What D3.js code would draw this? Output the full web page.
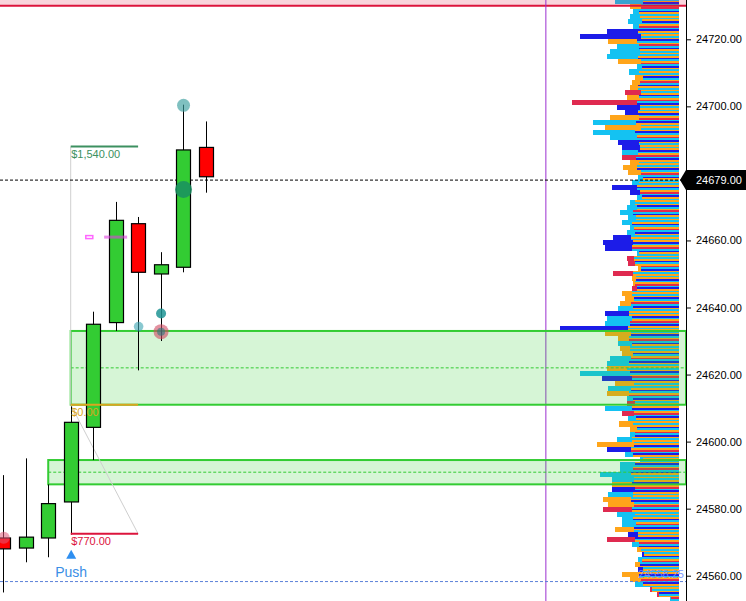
<!DOCTYPE html>
<html>
<head>
<meta charset="utf-8">
<script src="https://cdn.jsdelivr.net/npm/d3@7"></script>
<style>
  body { margin: 0; background: #fff; }
  svg { display: block; font-family: "Liberation Sans", Arial, sans-serif; }
</style>
</head>
<body>
<div id="chart"></div>
<script>
// candles (index 0 is the partly hidden one at the left edge)
const opens  = [24571.25, 24568.25, 24571.25, 24582, 24604.25, 24635.5, 24665, 24650, 24652, 24687.75];
const highs  = [24590, 24595, 24587.25, 24610.5, 24638.75, 24671.5, 24667, 24656.5, 24700.5, 24695.5];
const lows   = [24555, 24564, 24565.5, 24572.25, 24594.5, 24633, 24621.25, 24630, 24650.5, 24674.25];
const closes = [24568, 24571.5, 24581.5, 24605.75, 24635, 24666, 24650.5, 24652.75, 24687, 24679];

// 24680 sits under the last price tag
const yTicks = [24560, 24580, 24600, 24620, 24640, 24660, 24700, 24720];

// zones: [start index, top, bottom]
const zones = [[3, 24633, 24611], [2, 24594.5, 24587.25]];

// target levels drawn from candle 3 to candle 6
const targets = [
  { label: "$1,540.00", price: 24688, color: "#3c9060" },
  { label: "$0.00", price: 24611, color: "#daa520" },
  { label: "$770.00", price: 24572.5, color: "#dc143c" }
];

// bubbles: [index, price, radius, colour, opacity]
const bubbles = [
  [0, 24571.3, 6, "#e05a78", 0.55],
  [8, 24700.3, 6.5, "#3a9e9e", 0.65],
  [8, 24675.2, 8.5, "#1a8f62", 0.85],
  [6, 24634.3, 4.8, "#3aa4b0", 0.6],
  [7, 24638.2, 5, "#1f9494", 0.85],
  [7, 24632.8, 7.5, "#d04860", 0.6],
  [7, 24632.8, 4, "#2a7a80", 0.6]
];

const lastPrice = 24678;
const lastLabel = "24679.00";
const pocPrice = 24558.25;
const redBandPrice = 24730;
const sessionIndex = 24.15;
const pushIndex = 3;
const orderPrice = 24661;

// volume profile, one row per 1.5 points from the top of the chart
const proTop = 24732, proStep = 1.5;
const proVol = [
  64, 49, 46, 49, 51, 46, 72, 99, 71, 62,
  69, 72, 61, 42, 50, 44, 47, 49, 54, 52,
  107, 62, 54, 69, 86, 74, 86, 69, 61, 57,
  57, 57, 49, 56, 51, 41, 47, 67, 49, 42,
  49, 52, 59, 51, 57, 49, 52, 66, 76, 74,
  42, 52, 51, 41, 66, 47, 46, 47, 57, 54,
  59, 61, 74, 72, 74, 119, 74, 61, 61, 59,
  57, 69, 72, 72, 99, 77, 64, 71, 72, 52,
  52, 74, 57, 51, 60, 49, 49, 62, 82, 72,
  54, 39, 59, 59, 79, 67, 67, 67, 71, 76,
  71, 76, 62, 57, 57, 64, 51, 72, 47, 42,
  37, 41, 44, 41, 57, 49, 44, 29, 22, 9
];
const proCore = [
  36, 38, 40, 39, 37, 40, 41, 38, 42, 40,
  39, 41, 38, 37, 40, 36, 39, 41, 38, 40,
  42, 39, 41, 40, 43, 38, 44, 42, 40, 39,
  41, 43, 40, 42, 38, 36, 40, 42, 39, 37,
  44, 42, 46, 43, 47, 45, 44, 48, 46, 47,
  40, 45, 44, 38, 46, 43, 44, 42, 47, 45,
  48, 46, 50, 47, 49, 51, 48, 50, 47, 49,
  46, 48, 50, 52, 49, 47, 45, 48, 50, 46,
  44, 47, 45, 43, 46, 42, 44, 47, 45, 48,
  46, 36, 44, 46, 48, 45, 47, 44, 46, 48,
  45, 47, 44, 46, 43, 45, 41, 44, 40, 38,
  35, 37, 39, 36, 40, 38, 36, 27, 20, 8
];
const proColor = ("coccccbboc" + "ccoccoooro" + "rbbococcbb" + "crooocc" + "bbc" +
                  "cccccccbbb" + "crrorooroo" + "ocbccbooco" + "occocbococ" +
                  "rcrcooccob" + "ccccccobco" + "orcccobrco" + "bcoboocrrc").split("");

const pal = { c: "#14c2f2", o: "#ffa51a", b: "#1c1ce8", r: "#df2a50" };
const stripeCycle = ["c", "o", "b", "c", "o", "r", "c", "b", "o", "c", "o"];

const w = 746, h = 601;
const axisX = 686;
const proRight = 679;

const yScale = d3.scaleLinear().domain([24560, 24720]).range([575.7, 39.3]);
const xScale = d3.scaleLinear().domain([0, 9]).range([3.3, 205.5]);
const vScale = d3.scaleLinear().domain([0, 100]).range([proRight, proRight - 100]);
const bodyW = 14;

const svg = d3.select("#chart").append("svg")
  .attr("width", w)
  .attr("height", h);

// profile
const levels = d3.range(proVol.length).map(k => proTop - k * proStep);
const rowH = yScale(proTop - proStep) - yScale(proTop);
const pro = svg.append("g").attr("shape-rendering", "crispEdges");

pro.selectAll("rect.outer")
  .data(levels)
  .enter()
  .append("rect")
  .attr("class", "outer")
  .attr("x", (d, i) => vScale(proVol[i]))
  .attr("y", d => yScale(d))
  .attr("width", (d, i) => proRight - vScale(proVol[i]))
  .attr("height", rowH)
  .attr("fill", (d, i) => pal[proColor[i]] || pal.c);

const stripes = [];
levels.forEach((d, i) => {
  for (let j = 0; j < 3; j++) stripes.push({ i, j, price: d });
});
pro.selectAll("rect.core")
  .data(stripes)
  .enter()
  .append("rect")
  .attr("class", "core")
  .attr("x", s => vScale(Math.min(proCore[s.i], proVol[s.i])))
  .attr("y", s => yScale(s.price) + s.j * rowH / 3)
  .attr("width", s => proRight - vScale(Math.min(proCore[s.i], proVol[s.i])))
  .attr("height", rowH / 3)
  .attr("fill", s => pal[stripeCycle[(s.i * 3 + s.j) % stripeCycle.length]]);

// red band at the top
svg.append("rect")
  .attr("x", 0).attr("y", 0)
  .attr("width", axisX)
  .attr("height", yScale(redBandPrice))
  .attr("fill", "#dc143c")
  .attr("opacity", 0.18);
svg.append("line")
  .attr("x1", 0).attr("x2", axisX)
  .attr("y1", yScale(redBandPrice)).attr("y2", yScale(redBandPrice))
  .attr("stroke", "#dc143c")
  .attr("stroke-width", 2);

// session line
svg.append("line")
  .attr("x1", xScale(sessionIndex)).attr("x2", xScale(sessionIndex))
  .attr("y1", 0).attr("y2", h)
  .attr("stroke", "#9b30d0")
  .attr("stroke-width", 1);

// zones
zones.forEach(z => {
  const x0 = xScale(z[0]);
  svg.append("rect")
    .attr("x", x0)
    .attr("y", yScale(z[1]))
    .attr("width", axisX - x0)
    .attr("height", yScale(z[2]) - yScale(z[1]))
    .attr("fill", "#33cc33")
    .attr("fill-opacity", 0.2)
    .attr("stroke", "#33cc33")
    .attr("stroke-width", 2);
  const mid = (z[1] + z[2]) / 2;
  svg.append("line")
    .attr("x1", x0).attr("x2", axisX)
    .attr("y1", yScale(mid)).attr("y2", yScale(mid))
    .attr("stroke", "#33cc33")
    .attr("stroke-dasharray", "3,2");
});

// grey guide of the targets
const gx0 = xScale(3), gx1 = xScale(6);
svg.append("path")
  .attr("d", `M${gx0},${yScale(targets[0].price)}L${gx0},${yScale(targets[1].price)}L${gx1},${yScale(targets[2].price)}`)
  .attr("fill", "none")
  .attr("stroke", "#cfcfcf")
  .attr("stroke-width", 1);

// dashed price lines
svg.append("line")
  .attr("x1", 0).attr("x2", axisX)
  .attr("y1", yScale(lastPrice)).attr("y2", yScale(lastPrice))
  .attr("stroke", "#000")
  .attr("stroke-dasharray", "3,2");
svg.append("line")
  .attr("x1", 0).attr("x2", axisX)
  .attr("y1", yScale(pocPrice)).attr("y2", yScale(pocPrice))
  .attr("stroke", "#5b80d8")
  .attr("stroke-dasharray", "3,2");
svg.append("text")
  .attr("x", proRight + 5)
  .attr("y", yScale(pocPrice) - 4)
  .attr("text-anchor", "end")
  .attr("font-size", 11)
  .attr("fill", "#6f8fff")
  .attr("opacity", 0.9)
  .text(d3.format(".2f")(pocPrice));

// candles
const cg = svg.append("g");
cg.selectAll("line.wick")
  .data(opens)
  .enter()
  .append("line")
  .attr("class", "wick")
  .attr("x1", (d, i) => Math.round(xScale(i)) + 0.5)
  .attr("x2", (d, i) => Math.round(xScale(i)) + 0.5)
  .attr("y1", (d, i) => yScale(highs[i]))
  .attr("y2", (d, i) => yScale(lows[i]))
  .attr("stroke", "#000");
cg.selectAll("rect.body")
  .data(opens)
  .enter()
  .append("rect")
  .attr("class", "body")
  .attr("x", (d, i) => Math.round(xScale(i)) + 0.5 - bodyW / 2)
  .attr("y", (d, i) => yScale(Math.max(d, closes[i])))
  .attr("width", bodyW)
  .attr("height", (d, i) => Math.abs(yScale(d) - yScale(closes[i])))
  .attr("fill", (d, i) => closes[i] >= d ? "#33cc33" : "#ff0000")
  .attr("stroke", "#000")
  .attr("stroke-width", 1.2);

// order marks
svg.append("rect")
  .attr("x", xScale(3.85) - 4).attr("y", yScale(orderPrice) - 1.5)
  .attr("width", 7).attr("height", 3)
  .attr("fill", "none")
  .attr("stroke", "#ff66ff")
  .attr("stroke-width", 1.5);
svg.append("rect")
  .attr("x", xScale(5) - 11.5).attr("y", yScale(orderPrice) - 1.5)
  .attr("width", 23).attr("height", 3)
  .attr("fill", "#e040e0")
  .attr("opacity", 0.6);

// targets
targets.forEach(t => {
  svg.append("line")
    .attr("x1", gx0).attr("x2", gx1)
    .attr("y1", yScale(t.price)).attr("y2", yScale(t.price))
    .attr("stroke", t.color)
    .attr("stroke-width", 2);
  svg.append("text")
    .attr("x", gx0 + 0.5)
    .attr("y", yScale(t.price) + 11)
    .attr("font-size", 11)
    .attr("fill", t.color)
    .text(t.label);
});

// bubbles
svg.selectAll("circle.bub")
  .data(bubbles)
  .enter()
  .append("circle")
  .attr("class", "bub")
  .attr("cx", d => xScale(d[0]) + 0.5)
  .attr("cy", d => yScale(d[1]))
  .attr("r", d => d[2])
  .attr("fill", d => d[3])
  .attr("opacity", d => d[4]);

// push marker
const px = xScale(pushIndex) + 0.5;
const py = yScale(lows[pushIndex]) + 15;
svg.append("path")
  .attr("d", `M${px - 5},${py + 9}L${px + 5},${py + 9}L${px},${py}Z`)
  .attr("fill", "#2f8ff0");
svg.append("text")
  .attr("x", px)
  .attr("y", py + 27)
  .attr("text-anchor", "middle")
  .attr("font-size", 14)
  .attr("fill", "#3a8ee6")
  .text("Push");

// price axis
const yAxis = d3.axisRight(yScale)
  .tickValues(yTicks)
  .tickFormat(d3.format(".2f"))
  .tickSize(5)
  .tickSizeOuter(0)
  .tickPadding(5);
svg.append("g")
  .attr("transform", `translate(${axisX},0)`)
  .call(yAxis)
  .call(g => g.select(".domain").remove())
  .call(g => g.selectAll("text").attr("font-size", 11).attr("fill", "#000").attr("font-family", "Liberation Sans, Arial, sans-serif"));
svg.append("line")
  .attr("x1", axisX + 0.5).attr("x2", axisX + 0.5)
  .attr("y1", 0).attr("y2", h)
  .attr("stroke", "#000");

// last price tag
const ly = yScale(lastPrice);
svg.append("path")
  .attr("d", `M${axisX - 6},${ly}L${axisX},${ly - 10}L${w},${ly - 10}L${w},${ly + 10}L${axisX},${ly + 10}Z`)
  .attr("fill", "#000");
svg.append("text")
  .attr("x", axisX + 10)
  .attr("y", ly + 4)
  .attr("font-size", 11)
  .attr("fill", "#fff")
  .text(lastLabel);
</script>
</body>
</html>
